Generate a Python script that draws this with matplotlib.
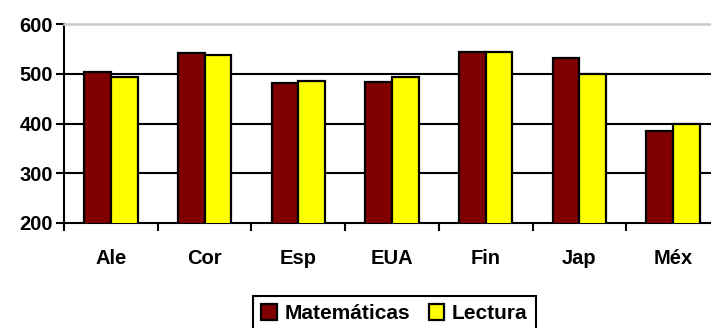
import numpy as np
import matplotlib
matplotlib.use("Agg")
import matplotlib.pyplot as plt

plt.rcParams['font.family'] = ['Liberation Sans', 'DejaVu Sans']
plt.rcParams['font.weight'] = 'bold'

paises = ["Ale", "Cor", "Esp", "EUA", "Fin", "Jap", "Méx"]
matematicas = [503, 542, 482, 483, 544, 531, 384]
lectura = [494, 538, 485, 494, 543, 500, 399]
ticks_y = [200, 300, 400, 500, 600]

fig = plt.figure(figsize=(7.11, 3.28), dpi=100)
# el area del grafico sigue mas alla del borde derecho
ax = fig.add_axes([64 / 711, 105 / 328, 656 / 711, 199 / 328])

x = np.arange(len(paises))
ancho = 0.285
ax.bar(x - ancho / 2, matematicas, ancho, color="#800000", edgecolor="black",
       linewidth=1.6, label="Matemáticas", zorder=3)
ax.bar(x + ancho / 2, lectura, ancho, color="#FFFF00", edgecolor="black",
       linewidth=1.6, label="Lectura", zorder=3)

ax.set_xlim(-0.5, len(paises) - 0.5)
ax.set_ylim(200, 600)
ax.set_yticks(ticks_y)
ax.set_yticklabels([str(t) for t in ticks_y], fontsize=14.5, fontweight="bold")
for t in ticks_y[1:-1]:
    ax.axhline(t, color="black", linewidth=1.5, zorder=1)

# ticks en los limites de cada categoria, etiquetas al centro
ax.set_xticks(np.arange(-0.5, len(paises), 1.0))
ax.set_xticklabels([])
ax.set_xticks(x, minor=True)
ax.set_xticklabels(paises, minor=True, fontsize=14.5, fontweight="bold")
ax.tick_params(axis="x", which="major", length=6, width=1.5, direction="out")
ax.tick_params(axis="x", which="minor", length=0, pad=19)
ax.tick_params(axis="y", length=6, width=1.5, direction="out", pad=2)

for lado in ["left", "bottom"]:
    ax.spines[lado].set_linewidth(1.5)
    ax.spines[lado].set_color("black")
ax.spines["top"].set_color("#c8c8c8")
ax.spines["top"].set_linewidth(1.8)
ax.spines["right"].set_visible(False)

leg = fig.legend(loc="upper left", bbox_to_anchor=(253 / 711, 32 / 328), ncol=2,
                 frameon=True, fancybox=False, framealpha=1, edgecolor="black",
                 handlelength=0.75, handleheight=0.75, handletextpad=0.35,
                 columnspacing=0.9, borderpad=0.4, borderaxespad=0,
                 prop={"size": 15, "weight": "bold"})
leg.get_frame().set_linewidth(1.5)

fig.savefig("out.png", dpi=100)
